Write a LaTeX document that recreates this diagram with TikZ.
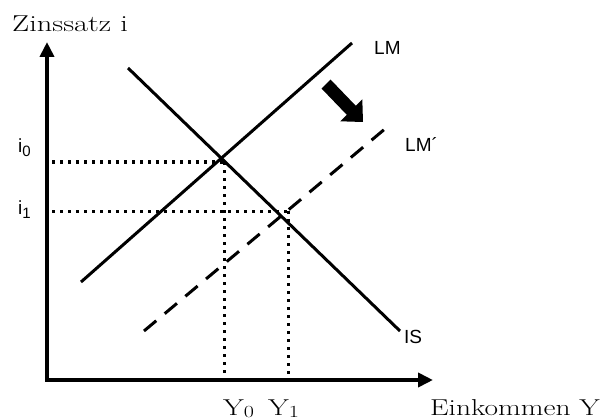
\documentclass[tikz,border=0pt]{standalone}
\usepackage{fontspec}
\newfontfamily\sansf{Liberation Sans}
\usetikzlibrary{arrows.meta}
\tikzset{
  axis/.style={line width=4.5pt, -{Triangle[length=15pt,width=14pt]}},
  curve/.style={line width=3pt},
  dotline/.style={line width=3pt, dash pattern=on 3pt off 5pt},
  dashline/.style={line width=3pt, dash pattern=on 16pt off 11pt},
  serif/.style={font=\fontsize{23}{26}\selectfont, inner sep=0pt},
  sanslab/.style={font=\sansf\fontsize{19}{20}\selectfont, inner sep=0pt},
}
\newcommand{\serifsub}[1]{\raisebox{-2pt}{\fontsize{17}{17}\selectfont #1}}
\newcommand{\sanssub}[1]{\raisebox{-4pt}{\fontsize{15}{15}\selectfont #1}}
\begin{document}
\begin{tikzpicture}[x=1pt,y=-1pt]
\useasboundingbox (0,0) rectangle (606,420);
% coordinates
\coordinate (O) at (47,380);
\coordinate (ytop) at (47,42);
\coordinate (O2) at (45,380);
\coordinate (xend) at (433,380);
\coordinate (lmA) at (81,282);
\coordinate (lmB) at (352,43);
\coordinate (lmpA) at (144,331);
\coordinate (lmpB) at (392,123);
\coordinate (isA) at (128,68);
\coordinate (isB) at (400,331);
\coordinate (i0L) at (52,162);
\coordinate (E0) at (224,162);
\coordinate (Y0b) at (224,378);
\coordinate (i1L) at (52,211);
\coordinate (E1) at (288,211);
\coordinate (Y1b) at (288,378);
% axes
\draw[axis] (O) -- (ytop);
\draw[axis] (O2) -- (xend);
% curves
\draw[curve] (lmA) -- (lmB);
\draw[curve] (isA) -- (isB);
\draw[dashline] (lmpA) -- (lmpB);
% dotted guides
\draw[dotline] (i0L) -- (E0);
\draw[dotline] (E0) -- (Y0b);
\draw[dotline] (i1L) -- (E1);
\draw[dotline] (E1) -- (Y1b);
% shift arrow
\fill (330.5,79.5) -- (355.8,105.8) -- (362.3,99.3) -- (363,122) -- (340.3,121.3) -- (346.8,114.8) -- (321.5,88.5) -- cycle;
% labels
\node[serif, anchor=base west] (zl) at (12,32) {\scalebox{1.32}[1]{Zinssatz i}};
\node[serif, anchor=base west] (el) at (430,415) {\scalebox{1.28}[1]{Einkommen Y}};
\node[serif, anchor=base west] (y0l) at (223,415) {\scalebox{1.3}[1]{Y\serifsub{0}}};
\node[serif, anchor=base west] (y1l) at (268,415) {\scalebox{1.3}[1]{Y\serifsub{1}}};
\node[sanslab, anchor=base west] (i0l) at (18,153) {i\sanssub{0}};
\node[sanslab, anchor=base west] (i1l) at (18,214) {i\sanssub{1}};
\node[sanslab, anchor=base west] (lml) at (374,55) {LM};
\node[sanslab, anchor=base west] (lmpl) at (405,152) {LM´};
\node[sanslab, anchor=base west] (isl) at (404,343) {IS};
\end{tikzpicture}
\end{document}
